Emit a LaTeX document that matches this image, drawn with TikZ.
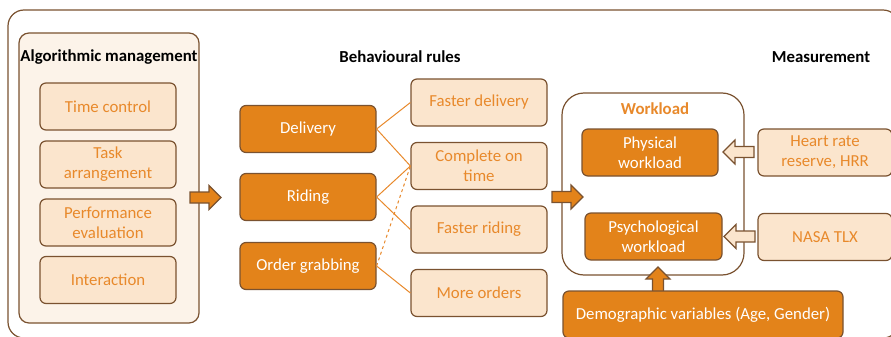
\documentclass[tikz,border=0pt]{standalone}
\usepackage{fontspec}
\setmainfont{Carlito}
\usetikzlibrary{calc}

\newlength{\du}
\setlength{\du}{1pt}

\definecolor{framecolor}{RGB}{122,82,48}
\definecolor{darkfill}{RGB}{227,131,26}
\definecolor{lightfill}{RGB}{251,229,205}
\definecolor{panelfill}{RGB}{252,243,233}
\definecolor{textorange}{RGB}{232,137,43}

\tikzset{
  every node/.style={font=\fontsize{16.8}{20}\selectfont, align=center, inner sep=0pt},
  darkbox/.style={draw=framecolor, line width=1.2\du, fill=darkfill, text=white,
    rounded corners=6\du, minimum width=136\du, minimum height=47\du},
  lightbox/.style={darkbox, fill=lightfill, text=textorange},
  heading/.style={font=\fontsize{16.8}{20}\selectfont\bfseries},
  link/.style={draw=textorange, line width=1\du},
  darkarrow/.style={draw=framecolor, line width=1.2\du, fill=darkfill},
  lightarrow/.style={draw=framecolor, line width=1.2\du, fill=lightfill},
  rarrow/.pic={\path[pic actions] (-15,-5.5) -- (4,-5.5) -- (4,-12) -- (16,0)
    -- (4,12) -- (4,5.5) -- (-15,5.5) -- cycle;},
}

\begin{document}
\begin{tikzpicture}[x=1\du, y=-1\du]
\useasboundingbox (0,0) rectangle (891,337);
% outer frame, runs off the page at the right
\draw[framecolor, line width=1.2\du, rounded corners=16\du] (8,10) rectangle (899,338);

% left column: algorithmic management
\node[draw=framecolor, line width=1.2\du, fill=panelfill, rounded corners=10\du,
  minimum width=180\du, minimum height=290\du] (alg) at (109,178) {};
\node[heading] (algtitle) at (109,57) {Algorithmic management};
\node[lightbox] (time) at (108,106.5) {Time control};
\node[lightbox] (task) at (108,164.5) {Task\\arrangement};
\node[lightbox] (perf) at (108,222.5) {Performance\\evaluation};
\node[lightbox] (inter) at (108,280) {Interaction};

\pic[darkarrow] at (205,197.5) {rarrow};

% middle column: behavioural rules
\node[heading] (rulestitle) at (400,57) {Behavioural rules};
\node[darkbox] (deliv) at (308,129) {Delivery};
\node[darkbox] (ride) at (308,197) {Riding};
\node[darkbox] (grab) at (308,266) {Order grabbing};

\node[lightbox] (fastdel) at (479,102.5) {Faster delivery};
\node[lightbox] (ontime) at (479,166) {Complete on\\time};
\node[lightbox] (fastride) at (479,229.5) {Faster riding};
\node[lightbox] (more) at (479,293) {More orders};

\draw[link] (deliv.east) -- (fastdel.west);
\draw[link] (deliv.east) -- (ontime.west);
\draw[link] (ride.east) -- (ontime.west);
\draw[link] (ride.east) -- (fastride.west);
\draw[link, dashed] (grab.east) -- (ontime.west);
\draw[link] (grab.east) -- (more.west);

% workload block
\node[draw=framecolor, line width=1.2\du, fill=white, rounded corners=22\du,
  minimum width=182\du, minimum height=182\du] (work) at (653,184) {};
\node[heading, text=textorange] (worktitle) at (655,109) {Workload};
\node[darkbox] (phys) at (650,152.5) {Physical\\workload};
\node[darkbox, minimum width=137\du] (psych) at (653.5,236.5) {Psychological\\workload};

\pic[darkarrow] at (567,197) {rarrow};

% up arrow sits under the demographic box
\pic[darkarrow, rotate=90] at (658,283) {rarrow};
\node[darkbox, minimum width=280\du] (demo) at (703,314.5) {Demographic variables (Age, Gender)};

% right column: measurement
\node[heading] (meastitle) at (821,57) {Measurement};
\node[lightbox, minimum width=134\du] (hrr) at (825,152.5) {Heart rate\\reserve, HRR};
\node[lightbox, minimum width=134\du] (tlx) at (825,237) {NASA TLX};

\pic[lightarrow, rotate=180] at (739,152) {rarrow};
\pic[lightarrow, rotate=180] at (740,236.5) {rarrow};
\end{tikzpicture}
\end{document}
